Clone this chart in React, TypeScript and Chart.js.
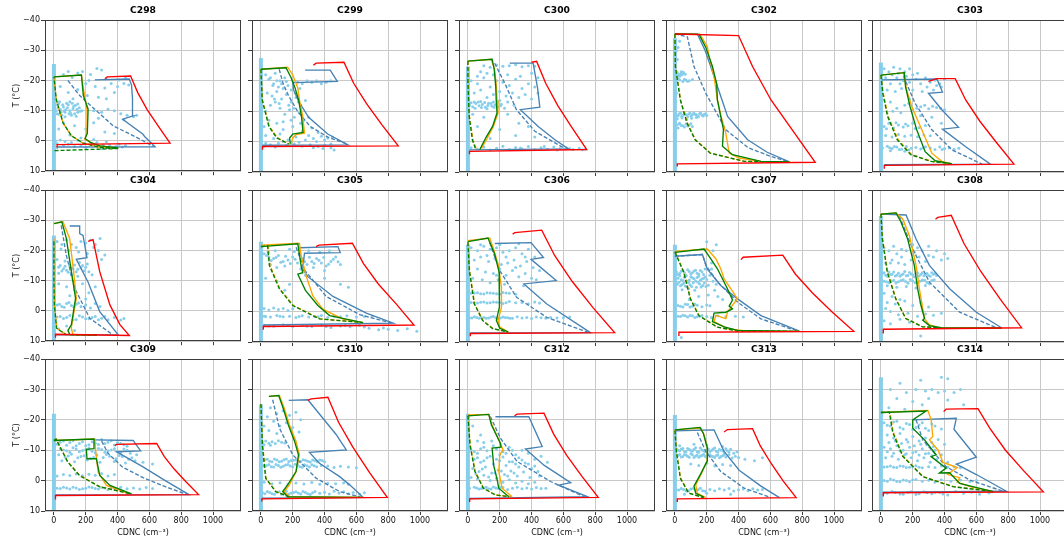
import React, { useEffect, useRef } from 'react';
import { Chart, registerables } from 'chart.js';

Chart.register(...registerables);

// Case names, one panel each (3 rows x 5 columns)
const CASES = ['C298', 'C299', 'C300', 'C302', 'C303', 'C304', 'C305', 'C306', 'C307', 'C308', 'C309', 'C310', 'C312', 'C313', 'C314'];
const X_TICKS = [0, 200, 400, 600, 800, 1000];
const T_TICKS = [-40, -30, -20, -10, 0, 10];

// Top temperature of the dense column of near-zero CDNC observations
const OBS_ZERO_TOP = [-25.5, -27.5, -24.7, -34, -26, -25, -23, -22, -22, -31.5, -22, -25, -22, -21.6, -34];

// Observed CDNC / temperature samples, flat [cdnc, T, cdnc, T, ...]
const OBS_POINTS: number[][] = [
  [60,-22, 90,-23, 150,-22.5, 180,-23, 230,-22, 270,-24, 300,-23.5, 115,-21, 200,-19, 260,-18, 320,-17.5, 360,-19, 400,-18, 440,-19, 470,-18.5, 380,-16, 150,-17, 210,-15, 280,-14.5, 330,-14, 90,-16, 40,-18, 120,-14,
   10,-12, 25,-11, 40,-10.5, 55,-12, 70,-9.5, 85,-11, 100,-10, 115,-12.5, 130,-9, 145,-10.5, 20,-9, 50,-8.5, 80,-12.5, 110,-8.5, 160,-11, 35,-13, 65,-10, 95,-9, 125,-11.5, 150,-9.5, 175,-10,
   5,-11, 15,-10, 30,-12.5, 45,-9.5, 60,-11.2, 75,-10.3, 90,-12, 105,-9.2, 120,-10.7, 135,-11.8, 150,-12.2, 165,-9.8, 30,-8.8, 70,-8, 100,-13, 140,-8.2,
   250,-10, 300,-9.5, 340,-10.5, 380,-10, 420,-9, 460,-8.5, 500,-8, 520,-8.5, 280,-7.5, 440,-7, 220,-20, 330,-20.5, 410,-20.2, 450,-21,
   60,-6, 130,-5, 200,-4, 250,-6, 320,-3, 100,-2, 170,-1, 380,-2.5, 30,-4,
   10,0, 40,-0.3, 70,0.2, 110,0.5, 150,-0.2, 190,0.8, 230,1, 270,0.5, 310,1.3, 350,1.5, 390,1.8, 430,2, 60,1.5, 130,1.8, 200,2.2, 300,2.5, 250,-0.5, 20,0.8, 90,1, 170,1.5, 330,0.3, 410,1.1, 450,1.5],
  [30,-22, 60,-21, 90,-22.5, 120,-20, 150,-21, 80,-19, 110,-18, 140,-17.5, 170,-18.5, 200,-20, 230,-19.5, 260,-19, 290,-20, 320,-19.5, 350,-20, 380,-19, 410,-19.5, 440,-20,
   50,-20.5, 75,-18.5, 100,-20, 130,-19, 160,-19.8, 190,-17, 215,-16, 245,-17.5, 85,-14, 115,-12.5, 175,-12, 205,-11, 235,-13,
   40,-16, 70,-15, 100,-16.5, 130,-14, 160,-15.5, 190,-13, 220,-14.5, 250,-12, 280,-13.5, 60,-12, 90,-13, 120,-11, 30,-10, 150,-9, 180,-10.5, 210,-8, 240,-9.5, 270,-7, 300,-8, 50,-7, 100,-6, 140,-6.5, 190,-7, 250,-6,
   20,-5, 140,-4, 200,-5, 260,-3.5, 320,-4.5, 360,-3, 30,-2, 80,-1, 120,-2.5, 170,-0.5, 220,-1.5, 280,-0.5, 330,-1, 380,-1.8, 420,-1.2, 450,-1.5, 300,-2, 350,0, 400,-0.5,
   60,1, 110,0.5, 160,1.2, 210,0.8, 260,1.5, 310,1, 360,1.6, 400,1.2, 440,2, 460,2.8, 20,1.5, 30,0.5, 90,1.8, 140,0, 240,0.2, 330,2, 390,2.3, 440,0.8],
  [100,-25, 140,-24.5, 180,-25.2, 220,-24.8, 260,-25, 300,-25.3, 340,-24.6, 380,-25, 420,-24.8, 80,-23, 120,-22.5, 60,-21.5, 160,-22, 250,-22, 330,-21.5, 400,-22.5, 440,-21,
   20,-20, 60,-19, 100,-21, 140,-18, 180,-20, 220,-19.5, 260,-18.5, 300,-20.5, 340,-17.5, 380,-19, 420,-18, 440,-16, 40,-16, 80,-17, 160,-15.5, 200,-16.5, 240,-15, 280,-16, 320,-14.5, 360,-15.5, 400,-14, 120,-14.5,
   10,-12, 30,-11.5, 50,-12.5, 70,-11.8, 90,-12.2, 110,-11.3, 130,-12.6, 150,-11.7, 170,-12.1, 190,-11.5, 210,-12.3, 40,-13, 80,-13.2, 120,-10.8, 160,-13, 230,-11,
   20,-12.8, 45,-11, 65,-13, 85,-11.2, 105,-12.9, 125,-11.9, 145,-12.5, 165,-11.3, 185,-12.7, 205,-11.8, 200,-13.5, 250,-13, 290,-12,
   30,-9, 100,-8, 250,-9, 320,-6, 60,-5, 200,-4, 380,-5, 300,-2, 140,-1, 420,-1.5,
   20,2, 60,2.5, 100,1.8, 140,2.8, 180,2.2, 220,1.5, 260,2.6, 300,1.9, 340,2.4, 380,1.6, 420,2.7, 460,2, 500,2.5, 540,1.8, 580,2.3, 620,2.1, 660,2.6, 700,2.2, 740,2.4, 330,2.1, 480,1.6, 560,2.8, 640,2.3, 720,2.7],
  [5,-22, 15,-22.5, 25,-21.8, 35,-22.3, 45,-22, 55,-22.6, 65,-22.2, 20,-21.5, 40,-23, 12,-22.9, 32,-21.6, 52,-22.8,
   10,-20, 30,-20.3, 50,-19.8, 70,-20.2, 90,-20, 110,-20.4, 20,-20.8, 60,-20.5, 80,-19.9,
   5,-9, 20,-8.5, 35,-9.3, 50,-8.7, 65,-9, 80,-8.2, 95,-9.4, 110,-8.8, 125,-9.1, 140,-8.5, 155,-9.2, 170,-8.7, 185,-9, 200,-8.6, 15,-7.5, 45,-7.8, 75,-7.3, 105,-7.7, 135,-7.9,
   8,-8.7, 28,-9.2, 42,-8.3, 58,-9.5, 72,-8.8, 88,-9.1, 102,-8.4, 118,-9.3, 132,-8.9, 148,-8.2, 162,-9.5, 178,-8.4, 193,-9.2,
   10,-5.5, 30,-6, 50,-5.2, 70,-5.8, 90,-5.5, 110,-5, 20,-4.5, 60,-4.8, 25,-5.8, 40,-5.3, 80,-5.1, 100,-5.9,
   10,-30, 20,-31, 15,-27, 30,-33, 5,-13, 10,-16],
  [20,-24, 50,-23, 80,-24.5, 110,-22.5, 150,-23, 180,-24, 200,-22, 100,-21, 140,-20, 180,-19.5, 220,-20.5, 250,-19, 280,-21, 310,-19.5, 340,-20.2, 370,-19, 400,-20.5, 60,-19, 40,-17, 90,-16.5, 130,-17.5, 200,-17, 260,-16.5, 330,-17, 380,-18,
   30,-21, 70,-22, 120,-24, 160,-21.5, 230,-22.5, 290,-18, 350,-18.5, 120,-19,
   100,-11, 150,-12, 200,-10.5, 250,-11.5, 300,-10.8, 350,-11.2, 400,-10.5, 60,-13, 180,-14, 75,-10, 125,-9.5, 175,-12.5, 225,-11, 275,-12, 325,-11.6, 375,-11,
   20,-5, 50,-6, 80,-4.5, 110,-5.5, 140,-4.8, 170,-5.2, 200,-6, 240,-4.6, 280,-5.3, 35,-4.2, 95,-6.2, 155,-5.8, 215,-4.3,
   30,-2, 70,-1.5, 110,-2.3, 150,-1.8, 190,-2.1, 230,-1.6, 270,-2.2, 310,-1.9,
   10,2, 40,1.5, 70,2.3, 100,1.8, 130,2.5, 160,1.6, 190,2.2, 220,1.9, 250,2.4, 280,1.7, 310,2.1, 340,2.6, 370,1.8, 400,2.3, 430,2, 460,2.5, 490,2.2, 60,3, 150,3.2, 55,2, 85,1.6, 115,2.6, 175,2.8, 265,2, 385,2.6,
   320,-8, 380,-6, 250,-8.5],
  [20,-23, 50,-22, 80,-23.5, 110,-22, 140,-21, 170,-23, 200,-22.5, 230,-23.5, 260,-22, 290,-24, 250,-21, 280,-20, 300,-17, 320,-18.5, 210,-19, 45,-20.5, 95,-20, 155,-19.5,
   20,-17, 40,-15, 60,-14, 80,-13.5, 100,-15, 120,-14, 140,-13, 160,-16, 180,-15, 200,-14.5, 220,-13, 240,-12, 30,-12.5, 70,-16.5, 110,-12, 150,-11.5,
   30,-14.5, 50,-13.2, 70,-14.8, 90,-12.8, 110,-14.2, 130,-15.2, 150,-13.8, 170,-14.3, 190,-13.3, 210,-15.5,
   30,-9, 80,-8, 130,-7, 180,-9, 220,-6, 260,-8, 100,-5, 200,-4,
   20,-2, 50,-1.5, 80,-2.5, 110,-1.8, 140,-2.2, 170,-1.5, 200,-2, 230,-1, 260,-2.5, 290,-1.5, 35,-2.2, 65,-1.2, 95,-2.8, 125,-1.3, 155,-2.6,
   20,2, 60,2.5, 100,1.5, 140,2.8, 180,2, 220,2.6, 260,1.8, 300,2.4, 340,2.9, 380,2.2, 420,3, 440,2.5, 40,1.8, 80,2.2, 120,2.9, 160,1.6, 200,2.6, 240,2.2, 280,2.9, 320,1.8,
   30,6, 80,5, 130,6.5],
  [20,-19, 50,-18, 80,-17.5, 110,-18.5, 140,-16.5, 170,-17, 200,-18, 230,-16, 260,-17.5, 290,-15.5, 320,-16.5, 350,-17.5, 380,-16, 410,-15, 440,-16.5, 470,-18, 500,-15.5, 60,-15.5, 100,-14.5, 150,-15, 250,-14, 330,-14.5, 400,-13.5, 90,-20, 300,-20, 370,-19.5, 430,-20, 180,-20.5,
   35,-18.5, 65,-16.8, 95,-17.8, 125,-16.2, 155,-18.2, 185,-15.8, 215,-17.2, 245,-18.8, 275,-16.4, 305,-17.9, 335,-15.8, 365,-16.9, 395,-17.8, 425,-15.6, 455,-17.2, 485,-16.4, 45,-19.5, 210,-19.8,
   30,-11, 100,-10, 180,-9, 280,-12, 400,-11, 500,-9, 550,-8, 150,-7,
   20,-1, 50,-0.5, 80,-1.2, 110,-0.7, 140,-1, 170,-0.4, 200,-0.9,
   20,1.5, 60,1.8, 100,1.3, 140,1.7, 180,1.5, 220,1.9, 260,1.4, 300,1.8, 340,1.6, 380,1.3, 420,1.9, 460,1.5, 500,1.7, 540,1.4, 600,1.8, 650,1.6, 700,1.5, 30,1.6, 120,1.5, 240,1.6, 360,1.7,
   20,4.5, 80,4.8, 140,4.3, 200,5, 260,4.6, 320,4.9, 380,4.4, 440,5.2, 500,4.7, 560,5, 620,4.5, 680,5.5, 740,6, 800,5.8, 860,6.2, 920,5.6, 980,6.5, 50,4.7, 170,4.6, 290,4.8, 410,4.9, 530,4.6, 650,5.1, 770,5.4],
  [20,-21, 60,-20, 100,-21.5, 140,-20.5, 180,-21, 220,-19.5, 260,-20, 300,-21, 340,-19, 380,-20.5, 420,-18, 40,-17, 80,-18, 130,-16.5, 170,-17.5, 210,-15.5, 250,-16, 290,-17, 330,-15, 370,-16.5, 410,-14.5, 450,-13.5,
   80,-22, 200,-22, 320,-22.3, 120,-18.5, 240,-18, 360,-18, 180,-12, 300,-14.5, 350,-8.5,
   60,-14, 110,-13, 160,-12.5, 200,-14, 240,-12, 280,-13.5, 320,-11.5, 360,-12.5, 400,-11, 430,-10.5, 30,-11, 90,-10.5, 140,-9.5, 190,-10.5, 230,-9,
   20,-6, 60,-6.2, 100,-5.8, 140,-6.1, 180,-5.9, 220,-6.3, 260,-6, 300,-5.7, 40,-6.1, 80,-5.9, 120,-6.2, 160,-6, 200,-5.8, 240,-6.1,
   20,-3, 60,-2.8, 100,-3.2, 140,-2.9, 180,-3.1, 220,-2.7, 260,-3.3, 300,-2.9, 340,-3, 380,-2.6, 420,-3.2, 450,-2.8, 40,-2.9, 80,-3.1, 120,-2.8, 160,-3.2, 200,-3, 240,-2.9,
   10,2, 40,1.7, 70,2.2, 100,1.9, 130,2.1, 160,1.6, 190,2.3, 220,1.8, 250,2, 280,2.2, 310,1.7, 340,2.1, 370,1.9, 400,2.3, 430,1.8, 460,2, 490,2.2, 520,1.9, 560,2.1, 600,2, 640,1.8,
   25,2.1, 55,1.9, 85,2, 115,2.2, 145,1.8, 175,2, 205,2.1, 235,1.9, 265,2.2],
  [10,-13, 30,-12.5, 50,-13.5, 70,-12, 90,-13.2, 110,-12.8, 130,-13.6, 150,-12.3, 170,-13, 190,-14, 20,-11, 40,-10.5, 60,-11.3, 80,-10, 100,-11.5, 120,-10.8, 140,-11.2, 160,-10.3, 180,-11, 200,-10.6,
   20,-12.2, 40,-13.3, 60,-12.8, 80,-13.8, 100,-12.4, 120,-13.4, 140,-12.6, 160,-13.5, 180,-12.2, 30,-11.8, 50,-10.2, 70,-11.7, 90,-10.4, 110,-11.1, 130,-10.1, 150,-11.6, 170,-10.7, 190,-11.4,
   15,-9, 35,-8.5, 55,-9.3, 75,-8.2, 95,-8.8, 115,-9.5, 135,-8, 155,-9.1, 175,-8.6, 195,-8.3, 45,-7.2, 85,-7.5, 125,-7,
   25,-9.7, 45,-8.9, 65,-8.4, 85,-9.6, 105,-8.3, 145,-9.7, 165,-8.1, 185,-9.4, 210,-8.7,
   220,-12, 240,-10, 260,-9, 230,-14, 250,-7, 270,-5, 300,-4, 210,-5.5, 230,-16, 240,-20, 200,-23, 260,-22,
   20,-2, 50,-1.5, 80,-2.3, 110,-1.8, 140,-2.1, 170,-1.6, 200,-2.2, 220,-1.9, 35,-1.8, 65,-2.4, 95,-1.5, 125,-2.5,
   20,1.5, 50,1.2, 80,1.8, 110,1.4, 140,1.7, 170,1.3, 200,1.6, 230,1.9, 270,1.4, 320,1.7, 380,1.5, 430,1.8, 35,1.6, 65,1.4, 95,1.3, 125,1.9, 155,1.5,
   40,8.5, 90,-4, 150,-5],
  [20,-21, 50,-20, 80,-21.5, 100,-19, 130,-18, 160,-20, 200,-22, 230,-21, 260,-20, 300,-21.5, 350,-20, 380,-17, 400,-19, 30,-16, 70,-17, 110,-16, 150,-15.5, 190,-17, 240,-18, 280,-16.5, 330,-18, 420,-17.5,
   60,-16, 130,-20.5, 210,-19.5, 300,-18.5,
   10,-12.5, 30,-12, 50,-13, 70,-12.3, 90,-11.7, 110,-12.6, 130,-12.1, 150,-13.2, 170,-11.9, 190,-12.4, 210,-11.5, 230,-12.8, 250,-12.2, 270,-11.8, 290,-12.5, 310,-11.6, 330,-12.3, 350,-11.9,
   20,-12.8, 40,-11.6, 60,-12.2, 80,-13, 100,-12, 120,-11.6, 140,-12.4, 160,-11.8, 180,-12.9, 200,-12.1, 220,-12.5, 240,-11.7, 260,-12.8, 280,-12.2, 300,-11.9, 320,-12.8, 340,-12.5,
   20,-10, 50,-9.5, 80,-10.3, 110,-9.8, 140,-10.5, 170,-9.3, 200,-10.1, 230,-9.7, 260,-10.4, 290,-9.6, 320,-10.2, 40,-8.5, 100,-8, 160,-8.3, 220,-7.8, 280,-8.6,
   35,-9.8, 65,-10.1, 95,-9.4, 125,-10.2, 155,-9.9, 185,-10.6, 215,-9.5, 245,-10, 275,-10.3, 305,-9.2, 335,-10.5,
   20,-6, 70,-5, 120,-4, 40,-3, 90,-2.5, 150,-3.5, 200,-2, 250,-3, 300,-1.5, 30,-1, 60,0, 110,1, 170,0.5, 230,1.5, 280,0.8, 330,1.2, 380,0.5, 20,3, 60,4, 120,2.5, 180,3.5, 250,8],
  [20,-12, 60,-13, 100,-12.5, 140,-11.5, 180,-12.8, 220,-11.8, 260,-12.3, 300,-13.5, 340,-12.6, 380,-11.7, 420,-12.2, 460,-11.3,
   40,-12.6, 80,-11.6, 120,-13.2, 160,-12.2, 200,-11.5, 240,-12.8, 280,-11.9, 320,-12.2, 360,-13.1, 400,-12.5, 440,-11.8,
   40,-10.5, 80,-9.8, 120,-10.8, 160,-9.5, 200,-10.2, 240,-9.7, 280,-10.6, 320,-9.3, 360,-10.1, 400,-9.6, 440,-10.4, 480,-9, 520,-8.5,
   60,-10.1, 100,-9.3, 140,-10.4, 180,-9.9, 220,-10.7, 260,-9.2, 300,-10.2, 340,-9.8, 380,-10.5, 420,-9.2, 460,-10,
   30,-8.5, 70,-7.8, 110,-8.7, 150,-7.5, 190,-8.2, 230,-7.3, 270,-8.4, 310,-7.6, 350,-8, 390,-7.2, 430,-7.9, 470,-7, 510,-6.5, 560,-6, 620,-5.5, 50,-6.5, 130,-6.2, 210,-6.8, 290,-6, 380,-6.3, 450,-5.8,
   90,-8.1, 170,-7.9, 250,-7.6, 330,-8.6, 410,-8.3, 490,-7.5,
   20,-1.5, 60,-2, 100,-1.7, 140,-2.2, 180,-1.6, 220,-2.1, 260,-1.8, 300,-2.3, 340,-1.5, 380,-2,
   20,2.5, 60,2.2, 100,2.8, 140,2.4, 180,2.7, 220,2.1, 260,2.6, 300,2.3, 340,2.9, 380,2.5, 420,2.2, 460,2.7, 500,2.4, 540,2.8, 580,2.3, 620,2.6,
   40,2.6, 80,2.4, 120,2.2, 160,2.9, 200,2.5, 240,2.3, 280,2.8, 320,2.4, 360,2.2],
  [60,-24, 100,-22, 140,-23, 180,-21.5, 220,-22.5, 250,-20, 80,-19.5, 120,-18, 160,-19, 200,-17.5, 240,-16, 50,-16.5, 100,-15.5, 40,-21, 20,-18,
   10,-12.5, 30,-13, 50,-12.3, 70,-12.8, 90,-12.2, 110,-13.1, 130,-12.6, 150,-12.4, 20,-11.8, 60,-11.6,
   10,-6.5, 40,-7, 70,-6.2, 100,-6.8, 130,-6.4, 160,-7.1, 190,-6.6, 220,-6.9, 250,-6.3, 280,-6.7, 310,-6.1, 340,-6.5, 370,-6.8, 400,-6.2,
   25,-6.9, 55,-6.4, 85,-7.1, 115,-6.2, 145,-6.9, 175,-6.3, 205,-6.7, 235,-6.1, 265,-6.9, 295,-6.4, 325,-6.8, 355,-6.2, 385,-6.6,
   20,-4.8, 50,-5.2, 80,-4.5, 110,-5, 140,-4.7, 170,-5.3, 200,-4.6, 230,-5.1, 260,-4.4, 290,-4.9, 320,-5.2, 350,-4.6, 380,-5, 420,-4.8, 460,-4.3, 500,-4.7, 550,-4.5, 600,-4.2,
   35,-5, 65,-4.6, 95,-5.3, 125,-4.4, 155,-5.1, 185,-4.8, 215,-5.4, 245,-4.6, 275,-5.2, 305,-4.5, 335,-4.9,
   20,0.5, 70,1, 120,0.7, 170,1.2, 220,0.8, 270,1.1, 320,0.6, 370,1.2, 420,0.9, 470,1, 520,0.8, 550,1.2,
   10,4, 40,3.6, 70,4.3, 100,3.8, 130,4.5, 160,3.5, 190,4.1, 220,3.7, 250,4.4, 280,3.9, 310,4.6, 340,3.6, 370,4.2, 400,3.8, 430,4.4, 460,3.5, 490,4.1, 520,3.7, 550,4.3, 580,3.9, 620,4.5, 650,4,
   25,4.3, 55,3.9, 85,4.5, 115,3.7, 145,4.2, 175,4.4, 205,3.9, 235,4.1, 265,3.6, 295,4.3, 325,4],
  [20,-10, 60,-9, 100,-11, 140,-8, 180,-10.5, 220,-9.5, 260,-11, 300,-8.5, 340,-10, 380,-9, 420,-7, 460,-8, 500,-6, 40,-7, 80,-6, 120,-7.5, 160,-5.5, 200,-6.5, 240,-5, 280,-6.2, 320,-4.5, 360,-5.8, 400,-4, 440,-3,
   40,-9.5, 80,-10.5, 120,-9.8, 160,-11.5, 200,-8.5, 240,-9, 280,-10, 320,-7.5, 60,-7.5, 100,-6.5, 180,-7, 220,-7.8, 260,-6.2, 300,-5.5, 340,-6.8, 380,-5.5, 420,-4.8,
   30,-4, 70,-3, 110,-4.5, 150,-2.5, 190,-3.5, 230,-2, 270,-3.2, 310,-1.5, 350,-2.8, 390,-1, 450,-1.5, 20,-1, 60,-0.5, 100,-1.8, 140,0, 180,-0.8, 220,0.5, 260,-0.3, 300,0.8, 340,0.2, 380,1, 420,0.5,
   50,-2.2, 90,-3.8, 130,-1.2, 170,-2.5, 210,-3.2, 250,-1.5, 290,-2.5,
   10,2.5, 40,2.2, 70,2.8, 100,2.4, 130,2.7, 160,2.1, 190,2.6, 220,2.3, 250,2.9, 280,2.5, 310,2.2, 340,2.7, 370,2.4, 400,2.8, 430,2.3, 460,2.6, 490,2.5,
   55,2.4, 85,2.6, 115,2.2, 145,2.8, 175,2.4, 205,2.2,
   30,-18, 80,-15, 150,-13, 60,-13, 100,-12.5],
  [10,-10.5, 30,-9.8, 50,-10.6, 70,-9.5, 90,-10.2, 110,-9.7, 130,-10.8, 150,-9.3, 170,-10.1, 190,-9.6, 210,-10.4, 230,-9.9, 250,-10.7, 270,-9.4, 290,-10, 310,-9.2, 330,-9.8, 350,-10.3, 370,-9, 390,-9.5,
   20,-10, 40,-10.4, 60,-9.6, 80,-10.6, 100,-9.9, 120,-10.3, 140,-9.5, 160,-10.7, 180,-9.8, 200,-10.1, 220,-9.6, 240,-10.4, 260,-9.7, 280,-10.2, 300,-9.9, 320,-10.5, 340,-9.5,
   20,-8.3, 40,-7.8, 60,-8.6, 80,-8, 100,-8.8, 120,-7.6, 140,-8.4, 160,-8.1, 180,-8.7, 200,-7.7, 220,-8.5, 240,-7.9, 260,-8.3, 280,-7.5, 300,-8.2, 320,-7.8, 340,-8.6, 360,-7.4, 380,-8, 400,-7.6, 440,-7, 500,-6.5, 550,-7.5, 30,-11.5, 120,-12, 200,-11.8, 300,-11.2,
   30,-8.6, 50,-7.9, 70,-8.4, 90,-7.7, 110,-8.5, 130,-8.1, 150,-7.7, 170,-8.3, 190,-8, 210,-8.6, 230,-8, 250,-7.6, 270,-8.4, 290,-7.9, 310,-8.5,
   100,-5.5, 150,-5, 200,-5.7, 250,-4.8, 300,-5.3, 350,-5,
   10,3, 40,2.6, 70,3.4, 100,2.8, 130,3.2, 160,2.5, 190,3.5, 220,2.9, 250,3.3, 280,2.7, 310,3.1, 340,2.6, 370,3.4, 400,3, 430,2.8, 460,3.3, 490,2.7, 520,3.1, 550,2.9, 60,4.5, 200,4.2, 350,4.5,
   25,3.1, 55,2.9, 85,3.3, 115,2.6, 145,3, 175,3.3],
  [120,-32, 250,-33, 380,-34, 420,-33.5, 60,-30, 160,-29, 220,-30, 280,-29.5, 320,-30, 360,-29, 400,-29.5, 460,-29, 500,-30, 100,-27, 200,-26, 300,-27, 420,-26.5, 50,-24, 150,-23.5, 260,-25, 520,-25,
   20,-19, 60,-18, 100,-19.5, 140,-17, 180,-18.5, 220,-17.5, 260,-19, 300,-16.5, 340,-18, 380,-17, 40,-15, 80,-14, 120,-15.5, 160,-13.5, 200,-14.5, 240,-13, 280,-14, 320,-12.5, 360,-13.5, 400,-12,
   40,-18.2, 80,-19.3, 120,-17.5, 160,-18.8, 200,-16.8, 240,-18.3, 280,-17.2, 320,-18.6, 50,-12.5, 90,-13, 130,-12.2, 170,-12.7, 210,-11.5, 250,-12, 290,-11.8, 330,-11.2,
   20,-11, 60,-10.5, 100,-11.5, 140,-10, 180,-11, 220,-9.5, 260,-10.5, 300,-9, 340,-10, 380,-8.5, 30,-7.5, 70,-8, 110,-7, 150,-8.5, 190,-7.5, 230,-6.5, 270,-7.5, 310,-6, 350,-7, 420,-6,
   40,-9.5, 80,-9, 120,-9.8, 160,-8.8, 200,-9.2, 240,-8.4, 280,-8.8, 320,-8.2,
   20,-4.5, 60,-4.8, 100,-4.3, 140,-4.7, 180,-4.4, 220,-4.9, 260,-4.2, 300,-4.6, 340,-4.3, 380,-4.8, 420,-4.4, 460,-4.6, 500,-4.2, 40,-4.6, 80,-4.4, 120,-4.8, 160,-4.3, 200,-4.6, 240,-4.4,
   20,0, 60,-0.5, 100,0.3, 140,-0.2, 180,0.4, 220,-0.4, 260,0.2, 300,-0.1, 340,0.5, 380,-0.3, 440,0.2, 500,-0.2, 560,0.3, 600,0, 40,0.2, 80,-0.2, 120,0.4, 160,0, 200,-0.3,
   20,4, 70,3.6, 120,4.4, 170,3.8, 220,4.6, 270,3.7, 320,4.3, 370,3.9, 420,4.7, 470,3.6, 520,4.2, 570,3.8, 620,4.5, 680,4.1, 700,3.7, 40,4.2, 90,3.9, 140,4.5, 190,3.7, 240,4.3, 290,4, 340,3.8, 390,4.4],
];

// Red parcel trajectories
const RED_LINE: number[][] = [
  [20,2.1, 20,1.2, 730,0.7, 656,-4.9, 586,-10.4, 527,-16, 482,-21.5, 335,-21.2, 320,-20.6],
  [10,2.7, 10,1.6, 863,1.4, 761,-5.5, 665,-12.4, 583,-19.2, 522,-26.1, 347,-25.8, 330,-25.1],
  [10,4.2, 10,3.2, 747,2.6, 652,-4.8, 564,-11.9, 489,-19.2, 432,-26.4, 400,-26.1],
  [15,8.2, 15,7.3, 882,6.8, 752,-2.8, 604,-13.7, 488,-24.7, 400,-34.9, 0,-35.4],
  [21,8.9, 21,7.8, 836,7.4, 725,0.2, 622,-6.7, 533,-13.7, 467,-20.7, 352,-20.7, 299,-19.8],
  [10,8.9, 10,7.7, 474,8.1, 415,4.5, 352,-2, 288,-13, 246,-23.6, 215,-23],
  [15,6, 15,4.9, 962,4.4, 854,-2.3, 738,-9.1, 645,-15.8, 575,-22.5, 364,-21.9, 347,-21.4],
  [15,8.1, 15,7.2, 922,6.9, 785,-1.4, 656,-9.9, 546,-18.4, 464,-26.8, 295,-26, 281,-25.5],
  [25,8, 25,6.8, 1124,6.5, 990,0.2, 865,-6.1, 758,-12.3, 678,-18.6, 429,-17.9, 415,-17.1],
  [15,7.2, 15,5.8, 884,5.3, 751,-4, 628,-13.2, 522,-22.4, 442,-31.7, 358,-31, 343,-30.4],
  [10,6.2, 10,4.9, 909,4.6, 830,0.4, 756,-3.8, 693,-8, 646,-12.2, 394,-11.9, 383,-11.5],
  [6,6.9, 6,6, 794,5.5, 682,-2.7, 578,-11, 488,-19.2, 421,-27.4, 316,-26.9, 295,-26.4],
  [11,7, 11,6, 819,5.5, 717,-1.4, 621,-8.3, 539,-15.3, 478,-22.2, 309,-21.9, 293,-21.3],
  [15,7, 15,6, 762,5.6, 680,0.1, 603,-5.8, 537,-11.4, 488,-17.1, 330,-16.8, 309,-16],
  [15,5.2, 15,4, 1021,3.7, 898,-3.2, 783,-10, 684,-17.3, 610,-23.7, 410,-23.5, 394,-22.7],
];

// Steel-blue parcel trajectories (solid and dashed)
const BLUE_LINE: number[][] = [
  [20,2.6, 20,2, 636,1.9, 570,-1.5, 560,-2.2, 432,-7.2, 497,-8.3, 494,-14, 488,-18.5, 474,-20.5, 257,-20.2],
  [10,1.2, 547,1.1, 420,-2.5, 300,-8, 240,-13, 205,-17, 200,-19.4, 480,-19.8, 436,-23.5, 278,-23.5],
  [10,2.7, 632,2.4, 547,-0.6, 442,-5, 330,-10.5, 452,-11.3, 438,-17.6, 425,-21.4, 410,-25.8, 263,-25.8],
  [0,-35.4, 141,-35.4, 190,-30, 225,-24.7, 278,-16.5, 331,-8.3, 457,-0.6, 580,3.5, 720,6.7],
  [21,7.6, 688,7.4, 531,1.6, 387,-4.1, 488,-4.7, 383,-10.5, 299,-15.9, 387,-16.3, 352,-20.6, 4,-20.3],
  [10,7.9, 404,7.9, 288,0.2, 215,-9.5, 141,-17.1, 208,-17.6, 183,-25, 162,-25.6, 162,-28.1, 99,-28.1],
  [15,4.4, 831,3.8, 663,0.5, 453,-5, 295,-11.5, 263,-14, 274,-19.2, 499,-19.4, 484,-21.4, 242,-21],
  [15,7, 770,6.9, 496,-2.5, 352,-9.1, 555,-10.2, 397,-17.2, 475,-17.8, 397,-22.7, 169,-22.4],
  [0,-18.2, 173,-18.8, 204,-14, 288,-8.6, 394,-4.2, 541,1.3, 783,6.4],
  [0,-32.1, 158,-31.8, 221,-23.9, 305,-15.2, 432,-7.5, 600,0.2, 758,5.3],
  [10,4.7, 849,4.6, 700,0, 560,-4.5, 450,-7.8, 394,-9.5, 545,-9.8, 510,-12.3, 499,-13.2, 257,-13.4],
  [6,5.8, 642,5.5, 558,1.4, 495,-1.3, 368,-5.7, 305,-9.3, 537,-10.1, 495,-13.4, 474,-15.1, 295,-26.6, 175,-26.4],
  [11,5.9, 751,5.3, 570,1.5, 646,0.7, 480,-5, 362,-10.4, 467,-11.2, 383,-21, 173,-21],
  [0,-16.4, 246,-16.7, 309,-9.6, 404,-3.4, 541,1.8, 657,5.6],
  [15,3.8, 789,3.5, 600,-2, 474,-5.4, 600,-7.7, 459,-16.9, 474,-20.5, 200,-20],
];
const BLUE_DASHED: number[][] = [
  [88,-20, 162,-15, 267,-10, 373,-5, 520,-1.2, 625,1.8],
  [115,-23.8, 140,-19, 175,-15, 230,-10, 310,-5, 420,-1.5, 547,0.9],
  [168,-25.8, 232,-19.2, 305,-10.5, 421,-3.4, 610,2.3],
  [0,-35.4, 78,-34.5, 120,-24.7, 194,-15.9, 320,-3.9, 460,2, 604,4.9, 720,6.7],
  [141,-21.6, 215,-12.6, 320,-3.9, 446,2.7, 636,7.4],
  [46,-28.3, 78,-18.4, 131,-7.5, 225,2.4, 373,8],
  [221,-21.2, 274,-13.7, 410,-5, 621,1, 821,3.8],
  [137,-22.7, 200,-13.5, 306,-4.7, 496,1.9, 760,6.9],
  [0,-18.2, 173,-18.8, 194,-15.3, 267,-9.8, 394,-3.1, 541,2.4, 772,6.4],
  [116,-31.5, 200,-20.6, 305,-9.7, 495,0.2, 726,5.3],
  [300,-13, 340,-9, 430,-4.5, 560,-1, 700,2, 840,4.6],
  [74,-26.6, 116,-17.3, 200,-8.5, 347,-0.8, 495,3.6, 632,5.5],
  [141,-21.1, 204,-14, 309,-6.3, 520,0.3, 730,5.3],
  [141,-15.8, 194,-9.6, 288,-3, 436,2.5, 604,5.6],
  [221,-20, 263,-13.4, 410,-4.6, 558,-0.2, 768,3.5],
];

// Orange parcel trajectories (solid and dashed)
const ORANGE_LINE: number[][] = [
  [0,-21.2, 173,-21.8, 183,-18, 208,-10.5, 208,-2.8, 194,-0.6, 240,0.8, 288,1.6, 393,2.3],
  [0,-23.8, 168,-24.5, 200,-22, 232,-17.6, 242,-13.7, 263,-8.3, 274,-2.8, 221,-2.3, 200,-1.2, 190,0.7],
  [0,-26.5, 147,-27.1, 168,-23.6, 179,-18.1, 183,-13.7, 189,-9.4, 160,-5, 120,-1, 84,2.3],
  [0,-35.4, 158,-35.3, 204,-31.2, 215,-28, 246,-21.4, 267,-13.7, 288,-8.8, 320,-2.8, 341,3.8, 404,5.4, 541,6.5, 720,6.7],
  [0,-21.9, 141,-22.7, 162,-17, 194,-11.5, 257,-3.9, 320,3.8, 383,6.5, 446,7.3],
  [0,-28.9, 57,-29.5, 99,-24, 124,-13, 141,-4.2, 109,5.7, 120,7.8, 270,8],
  [0,-21.9, 242,-22.5, 253,-18.4, 284,-11.8, 326,-5.2, 389,-0.8, 516,2.5, 642,3.6],
  [0,-23.3, 137,-24.2, 158,-21.1, 190,-15.6, 211,-8, 211,-1.5, 190,2.9, 200,5, 253,6.7],
  [0,-19.8, 204,-20.6, 257,-17.4, 288,-14.1, 309,-10.8, 352,-7.5, 394,-4.2, 360,-2, 330,0.2, 320,2.3, 257,1.2, 246,3.3, 330,5.6, 457,6.4, 783,6.5],
  [0,-32.1, 95,-32.5, 137,-30.5, 179,-25, 221,-15.2, 242,-7.5, 263,-1, 274,2.3, 305,4.4, 368,5.3, 758,5.4],
  [0,-13.2, 257,-13.7, 263,-9.4, 278,-2.8, 330,1.6, 478,4.4],
  [53,-27.7, 116,-28, 147,-23.8, 179,-18.4, 221,-12.9, 242,-8.5, 221,-3, 179,1.4, 147,3.6, 179,5.3, 642,5.5],
  [0,-21.6, 131,-21.8, 152,-18.3, 204,-12.3, 221,-10.1, 200,-8.5, 194,-3, 215,2.5, 278,5.3],
  [0,-16.7, 162,-17.3, 183,-15.1, 204,-10.7, 204,-6.9, 173,-3, 131,1.4, 141,4.2, 194,5.6],
  [0,-22.4, 295,-23.1, 316,-20, 326,-14.5, 305,-13.4, 360,-10, 390,-6, 480,-4.3, 420,-2, 495,-1, 480,0.5, 560,2, 700,3.5],
];
const ORANGE_DASHED: number[][] = [
  [0,-21.2, 15,-13.7, 57,-6, 110,-1.7, 183,0.7, 288,2.1, 393,2.3],
  [0,-23.8, 10,-13.7, 53,-5, 105,-1.2, 179,0.8],
  [0,-26.5, 2,-19.2, 10,-8.3, 32,-0.6, 55,2.6],
  [0,-35.4, 4,-24.7, 36,-13.7, 78,-6.1, 130,-0.6, 225,3.8, 436,6.5, 720,6.7],
  [0,-21.9, 15,-15.9, 46,-8.3, 109,-0.6, 194,4.3, 320,6.5, 446,7.3],
  [0,-24, 0,-10, 4,-2, 19,5.7, 78,7.8, 270,8],
  [0,-21.4, 46,-21.6, 57,-15.2, 120,-7.5, 205,-2, 372,2.4, 642,3.6],
  [0,-23, 11,-13.5, 42,-2.6, 95,2.9, 158,5.6, 253,6.7],
  [0,-19.8, 57,-13, 99,-4.2, 152,1.3, 267,5.1, 394,6.4, 783,6.5],
  [0,-32.1, 11,-23.9, 42,-13, 95,-4.2, 158,2.3, 263,5, 378,5.3],
  [0,-13.2, 15,-13.7, 46,-10.5, 88,-6.2, 162,-1.7, 288,2, 488,4.4],
  [0,-25.2, 11,-11.8, 32,-0.8, 95,3.6, 179,5.3],
  [0,-21.6, 15,-11.8, 46,-3, 99,2.5, 173,4.7, 278,5.3],
  [0,-16.7, 11,-9.6, 36,-0.8, 88,4.1, 183,5.6],
  [0,-22.4, 57,-22.5, 78,-15.9, 141,-8, 267,-1.3, 457,2, 705,3.6],
];

// Green parcel trajectories (solid and dashed)
const GREEN_LINE: number[][] = [
  [0,-21.2, 173,-21.8, 185,-15, 215,-10.5, 210,-2.5, 196,-0.8, 230,0.5, 288,1.6, 404,2.3],
  [0,-23.8, 158,-24.3, 190,-21, 215,-17.6, 237,-13.7, 255,-8.3, 265,-3, 200,-2.5, 180,-1.2, 185,0.7],
  [0,-26.5, 152,-27.1, 165,-24, 175,-18.1, 178,-13.7, 183,-9.4, 155,-5, 115,-1.5, 74,2.7],
  [0,-35.4, 152,-35.3, 194,-31, 236,-24.7, 262,-19.2, 267,-13.7, 288,-8.3, 305,-4, 299,1.5, 362,4.3, 541,6.5, 720,6.7],
  [0,-21.9, 147,-22.7, 155,-18, 183,-11.5, 225,-3.9, 278,3.3, 341,6.3, 446,7.3],
  [0,-28.9, 50,-29.5, 78,-24, 110,-13, 136,-4.2, 110,4.5, 88,6.5, 100,7.8, 270,8],
  [0,-21.4, 232,-22.3, 253,-15, 263,-12.8, 232,-12.3, 280,-7, 358,-2, 432,1.3, 642,3.6],
  [0,-23, 126,-24.2, 168,-19, 196,-13, 200,-8, 196,-1.5, 179,2.9, 200,5.5, 253,6.7],
  [0,-19.5, 183,-20.6, 225,-17.4, 267,-14.1, 299,-10.8, 330,-7.5, 362,-3.8, 341,-1.8, 362,-0.9, 320,0.2, 246,0.5, 236,3.3, 310,5, 394,6.2, 783,6.5],
  [0,-32.1, 95,-32.5, 126,-29.5, 168,-23.9, 210,-15.2, 231,-7.5, 252,-2, 274,2.2, 263,2.8, 305,4.6, 378,5.3, 758,5.4],
  [0,-13.2, 252,-13.7, 252,-10.5, 204,-10.3, 208,-7.2, 267,-7.2, 288,-1.7, 352,1.6, 488,4.4],
  [50,-27.7, 112,-28, 140,-23.8, 172,-18.4, 212,-12.9, 236,-8.5, 221,-3, 168,1.4, 137,3.6, 168,5.3, 642,5.5],
  [0,-21.3, 131,-21.8, 148,-18.3, 204,-12.3, 208,-11, 152,-10.7, 162,-5, 183,-0.5, 194,2.5, 257,5.3],
  [0,-16.7, 158,-17.5, 179,-15.5, 204,-10.7, 204,-6.5, 162,-2.2, 120,1.8, 131,4.2, 183,5.4],
  [0,-22.4, 284,-22.9, 200,-20, 200,-17.2, 274,-13.4, 347,-8.5, 316,-7.9, 410,-4.1, 368,-2.5, 432,-2.6, 495,0.9, 705,3.6],
];
const GREEN_DASHED: number[][] = [
  [4,3.2, 404,2.5, 288,2.1, 183,0.7, 110,-1.7, 57,-6, 15,-13.7, 0,-21.2],
  [0,-23.8, 8,-13.7, 50,-5, 100,-1.2, 175,0.8],
  [0,-26.5, 0,-19.2, 8,-8.3, 28,-0.6, 50,2.7],
  [0,-35.4, 3,-24.7, 34,-13.7, 76,-6.1, 127,-0.6, 222,3.8, 436,6.5, 720,6.7],
  [0,-21.9, 12,-15.9, 42,-8.3, 103,-0.6, 188,4.3, 315,6.5, 446,7.3],
  [0,-23, 0,-10, 3,-2, 17,5.7, 75,7.8, 270,8],
  [0,-21.4, 42,-21.6, 53,-15.2, 116,-7.5, 200,-2, 368,2.4, 642,3.6],
  [0,-22.8, 9,-13.5, 40,-2.6, 92,2.9, 155,5.6, 253,6.7],
  [0,-19.6, 55,-13, 97,-4.2, 150,1.3, 265,5.1, 394,6.4, 783,6.5],
  [0,-32.1, 9,-23.9, 40,-13, 93,-4.2, 156,2.3, 261,5, 378,5.3],
  [0,-13.2, 13,-13.7, 44,-10.5, 86,-6.2, 160,-1.7, 286,2, 488,4.4],
  [0,-25.2, 9,-11.8, 30,-0.8, 92,3.6, 176,5.3],
  [0,-21.3, 13,-11.8, 44,-3, 97,2.5, 171,4.7, 257,5.3],
  [0,-16.5, 9,-9.6, 34,-0.8, 86,4.1, 180,5.6],
  [0,-22.4, 53,-22.5, 74,-15.9, 137,-8, 263,-1.3, 453,2, 705,3.6],
];

const SKY = '#87ceeb';
const RED = '#ff0000';
const BLUE = '#4682b4';
const ORANGE = '#ffa500';
const GREEN = '#008000';
const FONT = 'DejaVu Sans';

// Plot-area geometry in page pixels
const AXES_LEFT = [45, 252, 459, 666, 872];
const AXES_TOP = [20, 190, 359];
const AXES_W = 196;
const AXES_H = 152;
const Y_AXIS_W = 45;
const TITLE_H = 20;

const pairs = (flat: number[]) => {
  const out: { x: number; y: number }[] = [];
  for (let k = 0; k < flat.length; k += 2) out.push({ x: flat[k], y: flat[k + 1] });
  return out;
};

const fmt = (v: number | string) => String(v).replace('-', '\u2212');

const framePlugin = {
  id: 'axesFrame',
  afterDatasetsDraw(chart: any) {
    const { ctx, chartArea: a } = chart;
    ctx.save();
    ctx.strokeStyle = '#3c3c3c';
    ctx.lineWidth = 1;
    ctx.strokeRect(Math.round(a.left) + 0.5, Math.round(a.top) + 0.5, Math.round(a.right - a.left) - 1, Math.round(a.bottom - a.top) - 1);
    ctx.restore();
  },
};

function Panel({ i }: { i: number }) {
  const ref = useRef<HTMLCanvasElement>(null);
  const col = i % 5;
  const row = Math.floor(i / 5);
  const bottomRow = row === 2;
  const leftCol = col === 0;
  const xAxisH = bottomRow ? 32 : 5;
  const w = Y_AXIS_W + AXES_W + 5;
  const h = TITLE_H + AXES_H + xAxisH;

  useEffect(() => {
    if (!ref.current) return;
    const line = (flat: number[], color: string, dashed: boolean, width = 1.35) => ({
      data: pairs(flat),
      showLine: true,
      borderColor: color,
      backgroundColor: color,
      borderWidth: width,
      borderDash: dashed ? [4, 2] : [],
      pointRadius: 0,
      pointHoverRadius: 0,
      fill: false,
      tension: 0,
    });
    const layers: any[] = [
      {
        data: pairs(OBS_POINTS[i]),
        showLine: false,
        pointRadius: 1.5,
        pointBackgroundColor: SKY,
        pointBorderWidth: 0,
        pointBorderColor: SKY,
      },
      line([0, 10, 0, OBS_ZERO_TOP[i]], SKY, false, 4),
      line(BLUE_DASHED[i], BLUE, true),
      line(BLUE_LINE[i], BLUE, false),
      line(ORANGE_DASHED[i], ORANGE, true),
      line(ORANGE_LINE[i], ORANGE, false),
      line(GREEN_DASHED[i], GREEN, true),
      line(GREEN_LINE[i], GREEN, false),
      line(RED_LINE[i], RED, false),
    ];
    const datasets = layers.map((d, k) => ({ ...d, order: layers.length - k }));
    const tickFont = { family: FONT, size: 8 };
    const grid = {
      color: '#c8c8c8',
      lineWidth: 1,
      drawTicks: true,
      tickLength: 4,
      tickColor: '#3c3c3c',
      tickWidth: 1,
    };
    const chart = new Chart(ref.current, {
      type: 'scatter',
      data: { datasets },
      plugins: [framePlugin],
      options: {
        responsive: false,
        animation: false,
        events: [],
        layout: { padding: { left: 0, right: 5, top: 0, bottom: 0 } },
        plugins: {
          legend: { display: false },
          tooltip: { enabled: false },
          title: {
            display: true,
            text: CASES[i],
            fullSize: false,
            color: '#000',
            font: { family: FONT, size: 9.2, weight: 'bold', lineHeight: 1.2 },
            padding: { top: 5, bottom: 4 },
          },
        },
        scales: {
          x: {
            type: 'linear',
            min: -56,
            max: 1176,
            afterBuildTicks: (s: any) => { s.ticks = X_TICKS.map((v) => ({ value: v })); },
            afterFit: (s: any) => { s.height = xAxisH; },
            grid,
            border: { display: false },
            ticks: { display: bottomRow, font: tickFont, color: '#111', padding: 1.5, maxRotation: 0, autoSkip: false, callback: (v: any) => fmt(v) },
            title: { display: bottomRow, text: 'CDNC (cm\u207b\u00b3)', color: '#111', font: tickFont, padding: { top: 0, bottom: 5.5 } },
          },
          y: {
            type: 'linear',
            reverse: true,
            min: -40,
            max: 10,
            afterBuildTicks: (s: any) => { s.ticks = T_TICKS.map((v) => ({ value: v })); },
            afterFit: (s: any) => { s.width = Y_AXIS_W; },
            grid,
            border: { display: false },
            ticks: { display: leftCol, font: tickFont, color: '#111', padding: 1, autoSkip: false, callback: (v: any) => fmt(v) },
            title: { display: leftCol, text: 'T (\u00b0C)', color: '#111', font: tickFont, padding: { top: 12, bottom: 0 } },
          },
        },
      } as any,
    });
    return () => chart.destroy();
  }, [i]);

  return (
    <canvas
      ref={ref}
      width={w}
      height={h}
      style={{ position: 'absolute', left: AXES_LEFT[col] - Y_AXIS_W, top: AXES_TOP[row] - TITLE_H, width: w, height: h }}
    />
  );
}

export default function App() {
  return (
    <div style={{ position: 'fixed', left: 0, top: 0, width: 1064, height: 542, overflow: 'hidden', background: '#fff' }}>
      {CASES.map((_, i) => (
        <Panel key={i} i={i} />
      ))}
    </div>
  );
}
